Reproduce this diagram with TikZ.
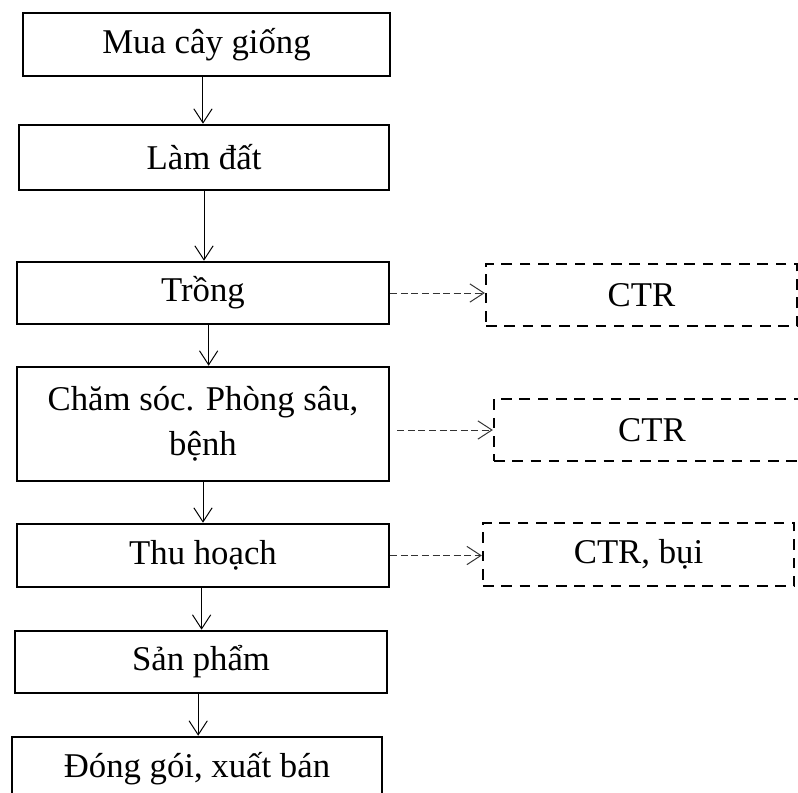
\documentclass[tikz,border=0pt]{standalone}
\usepackage{fontspec}
\setmainfont{Liberation Serif}
\usetikzlibrary{arrows.meta,positioning}
\tikzset{
  stage/.style={draw,line width=1.8pt,minimum width=9.3cm,minimum height=1.55cm,
    align=center,inner sep=2pt,font=\fontsize{24.7}{32}\selectfont},
  waste/.style={draw,line width=1.6pt,dash pattern=on 7.5pt off 5.5pt,
    minimum width=7.775cm,minimum height=1.55cm,font=\fontsize{24.7}{32}\selectfont},
  flow/.style={-{Straight Barb[length=10pt,width=13pt]},line width=0.7pt},
  leak/.style={flow,dash pattern=on 5pt off 2.5pt,black!80}
}

\begin{document}
\begin{tikzpicture}[x=0.025cm,y=-0.025cm]
  \useasboundingbox (0,0) rectangle (798,792);
  \clip (0,0) rectangle (798,792);
  % main line
  \node[stage,minimum width=9.175cm,minimum height=1.575cm] (buy) at (206.5,44.5) {Mua cây giống};
  \node[stage,minimum width=9.25cm,minimum height=1.625cm] (soil) at (204,157.5) {Làm đất};
  \node[stage] (plant) at (203,293) {Trồng};
  \node[stage,minimum height=2.85cm] (care) at (203,424) {Chăm sóc. Phòng sâu,\\ bệnh};
  \node[stage,minimum height=1.575cm] (harvest) at (203,555.5) {Thu hoạch};
  \node[stage] (product) at (201,662) {Sản phẩm};
  \node[stage,minimum width=9.25cm,minimum height=1.575cm] (pack) at (197,768.5) {Đóng gói, xuất bán};
  % wastes
  \node[waste] (ctrA) at (641.5,295) {CTR};
  \node[waste,minimum width=7.9cm] (ctrB) at (652,430) {CTR};
  \node[waste,minimum height=1.575cm] (ctrC) at (638.5,554.5) {CTR, bụi};
  % arrows
  \draw[flow] ([xshift=-2.5pt]buy.south) -- ([xshift=-2.5pt]buy.south |- soil.north);
  \draw[flow] (soil.south) -- (soil.south |- plant.north);
  \draw[flow] ([xshift=4pt]plant.south) -- ([xshift=4pt]plant.south |- care.north);
  \draw[flow] (care.south) -- (care.south |- harvest.north);
  \draw[flow] ([xshift=-1pt]harvest.south) -- ([xshift=-1pt]harvest.south |- product.north);
  \draw[flow] ([xshift=-2pt]product.south) -- ([xshift=-2pt]product.south |- pack.north);
  \draw[leak] (plant.east) -- (plant.east -| ctrA.west);
  \draw[leak,shorten <=5pt] (care.east |- ctrB) -- (ctrB.west);
  \draw[leak] (harvest.east) -- (harvest.east -| ctrC.west);
\end{tikzpicture}
\end{document}
